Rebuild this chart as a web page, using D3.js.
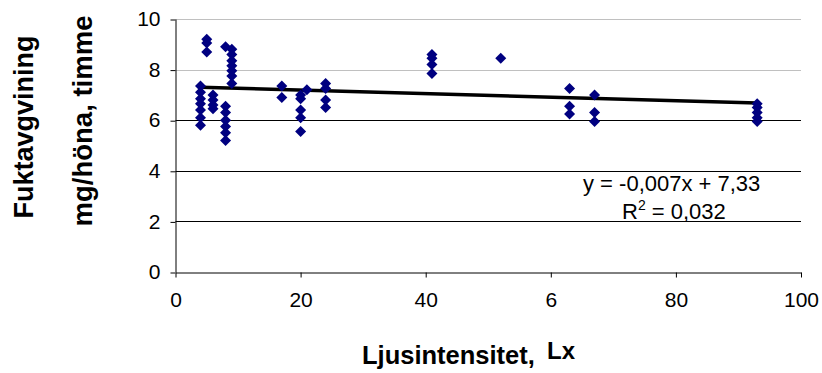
<!DOCTYPE html>
<html>
<head>
<meta charset="utf-8">
<script src="https://cdn.jsdelivr.net/npm/d3@7"></script>
<style>
  body { margin: 0; background: white; }
  svg { display: block; font-family: 'Liberation Sans', Arial, sans-serif; }
</style>
</head>
<body>
<div id="chart"></div>
<script>
// light intensity (Lx) and moisture output per hen and hour
const lux = [
  4, 4, 4, 4, 4, 4, 4,
  5, 5, 5,
  6, 6, 6, 6,
  8, 8, 8, 8, 8, 8, 8,
  9, 9, 9, 9, 9, 9, 9,
  17, 17,
  20, 20, 20, 20, 20,
  21,
  24, 24, 24, 24,
  41, 41, 41, 41,
  52,
  63, 63, 63,
  67, 67, 67,
  93, 93, 93, 93, 93
]
const moisture = [
  7.35, 7.1, 6.85, 6.65, 6.4, 6.1, 5.8,
  9.2, 9.05, 8.7,
  7.0, 6.8, 6.6, 6.45,
  8.9, 6.55, 6.3, 6.0, 5.75, 5.5, 5.2,
  8.8, 8.6, 8.35, 8.15, 7.95, 7.75, 7.45,
  7.35, 6.9,
  7.0, 6.85, 6.4, 6.1, 5.55,
  7.2,
  7.45, 7.25, 6.8, 6.5,
  8.6, 8.45, 8.2, 7.85,
  8.45,
  7.25, 6.55, 6.25,
  7.0, 6.3, 5.95,
  6.65, 6.5, 6.3, 6.1, 5.95
]
const slope = -0.007
const intercept = 7.33
const rSquared = '0,032'
const xTicks = [0, 20, 40, 60, 80, 100]
const xTickLabels = ['0', '20', '40', '6', '80', '100']
const yTicks = [0, 2, 4, 6, 8, 10]

const width = 822
const height = 373
const marginTop = 19
const marginRight = 21
const marginBottom = 101
const marginLeft = 175.5

const xScale = d3.scaleLinear([0, 100], [marginLeft, width - marginRight])
const yScale = d3.scaleLinear([0, 10], [height - marginBottom, marginTop])

const svg = d3.create('svg')
  .attr('width', width)
  .attr('height', height)
  .attr('viewBox', [0, 0, width, height])

// gridlines: upper two grey, the rest black as in the source
svg.append('g')
  .selectAll('line')
  .data(yTicks.filter(d => d > 0))
  .join('line')
  .attr('x1', marginLeft)
  .attr('x2', width - marginRight)
  .attr('y1', d => Math.round(yScale(d)) + 0.5)
  .attr('y2', d => Math.round(yScale(d)) + 0.5)
  .attr('stroke', d => d >= 8 ? '#c0c0c0' : '#000')
  .attr('stroke-width', 1)

const yAxis = d3.axisLeft(yScale).tickValues(yTicks).tickSize(5).tickSizeOuter(0).tickPadding(10)
svg.append('g')
  .attr('transform', `translate(${Math.round(marginLeft) - 0.5},0)`)
  .call(yAxis)
  .call(g => g.selectAll('.tick line').attr('transform', 'translate(0,0.5)'))
  .call(g => g.selectAll('text')
    .attr('font-size', '21px')
    .attr('font-family', 'Liberation Sans, Arial, sans-serif')
    .attr('fill', '#000'))

const xAxis = d3.axisBottom(xScale).tickValues(xTicks)
  .tickFormat((d, i) => xTickLabels[i])
  .tickSize(5).tickSizeOuter(0).tickPadding(15)
svg.append('g')
  .attr('transform', `translate(0,${Math.round(yScale(0)) + 0.5})`)
  .call(xAxis)
  .call(g => g.selectAll('text')
    .attr('font-size', '21px')
    .attr('font-family', 'Liberation Sans, Arial, sans-serif')
    .attr('fill', '#000'))

// trend line over the data range
const xExtent = d3.extent(lux)
const trend = d3.line()
  .x(d => xScale(d))
  .y(d => yScale(slope * d + intercept))
svg.append('path')
  .attr('d', trend(xExtent))
  .attr('fill', 'none')
  .attr('stroke', '#000')
  .attr('stroke-width', 3.5)

const diamond = 'M0,-5.5L5.5,0L0,5.5L-5.5,0Z'
svg.append('g')
  .selectAll('path')
  .data(d3.range(lux.length))
  .join('path')
  .attr('d', diamond)
  .attr('transform', i => `translate(${xScale(lux[i])},${yScale(moisture[i])})`)
  .attr('fill', '#000080')

// equation labels
svg.append('text')
  .attr('x', 583)
  .attr('y', 191)
  .attr('font-size', '22px')
  .text(`y = ${String(slope).replace('.', ',')}x + ${String(intercept).replace('.', ',')}`)

const r2 = svg.append('text')
  .attr('x', 622)
  .attr('y', 219)
  .attr('font-size', '22px')
r2.append('tspan').text('R')
r2.append('tspan').attr('font-size', '14px').attr('dy', -9).text('2')
r2.append('tspan').attr('dy', 9).text(` = ${rSquared}`)

// axis titles
const xTitle = svg.append('text')
  .attr('x', 362)
  .attr('y', 364)
  .attr('font-size', '25.5px')
  .attr('font-weight', 'bold')
xTitle.append('tspan').text('Ljusintensitet,')
xTitle.append('tspan').attr('x', 547).attr('font-size', '24px').attr('dy', -5).text('Lx')

svg.append('text')
  .attr('transform', 'translate(33,127) rotate(-90)')
  .attr('text-anchor', 'middle')
  .attr('font-size', '27px')
  .attr('font-weight', 'bold')
  .text('Fuktavgvining')

svg.append('text')
  .attr('transform', 'translate(92,121) rotate(-90)')
  .attr('text-anchor', 'middle')
  .attr('font-size', '27.5px')
  .attr('font-weight', 'bold')
  .text('mg/höna, timme')

d3.select('#chart').append(() => svg.node())
</script>
</body>
</html>
